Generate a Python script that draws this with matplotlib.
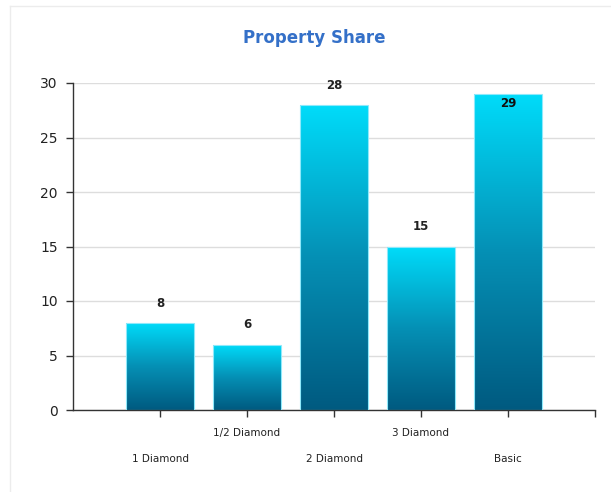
import matplotlib.pyplot as plt
import numpy as np
from matplotlib.colors import LinearSegmentedColormap
from matplotlib.lines import Line2D

categories = ['1 Diamond', '1/2 Diamond', '2 Diamond', '3 Diamond', 'Basic']
values = [8, 6, 28, 15, 29]
yticks = [0, 5, 10, 15, 20, 25, 30]

fig = plt.figure(figsize=(6.11, 4.92), dpi=100)
ax = fig.add_axes([73 / 611, 1 - 410 / 492, (595 - 73) / 611, (410 - 83) / 492])

# faint frame around the chart
fig.add_artist(Line2D([10 / 611, 10 / 611], [0, 1 - 6 / 492], color='#ececec', lw=1))
fig.add_artist(Line2D([10 / 611, 1], [1 - 6 / 492, 1 - 6 / 492], color='#ececec', lw=1))

x = np.arange(1, len(categories) + 1)
cmap = LinearSegmentedColormap.from_list('teal', ['#005a80', '#0590b5', '#00dcfa'])
grad = np.linspace(0, 1, 256).reshape(-1, 1)

bars = ax.bar(x, values, width=0.78, color='none', edgecolor='#8ee9fb', linewidth=0.8, zorder=3)
for b in bars:
    x0, w, h = b.get_x(), b.get_width(), b.get_height()
    im = ax.imshow(grad, cmap=cmap, origin='lower', aspect='auto',
                   extent=[x0, x0 + w, 0, h], zorder=2)
    im.set_clip_path(b)

for xi, v in zip(x, values):
    if v + 1.8 <= 30:
        ax.text(xi, v + 1.8, str(v), ha='center', va='center', fontsize=8.5,
                fontweight='bold', color='#222222', zorder=4)
    else:
        ax.text(xi, v - 0.9, str(v), ha='center', va='center', fontsize=8.5,
                fontweight='bold', color='#111111', zorder=4)

ax.set_xlim(0, 6)
ax.set_ylim(0, 30)
ax.set_yticks(yticks)
ax.tick_params(axis='y', labelsize=10, length=5, width=1, color='#333333',
               labelcolor='#222222', pad=6)
ax.yaxis.grid(True, color='#dddddd', lw=1)
ax.set_axisbelow(True)

# staggered category labels: upper row on major ticks, lower row on minor ticks
upper = [i for i in range(len(categories)) if i % 2 == 1]
lower = [i for i in range(len(categories)) if i % 2 == 0]
ax.set_xticks([x[i] for i in upper] + [6], [categories[i] for i in upper] + [''])
ax.set_xticks([x[i] for i in lower], [categories[i] for i in lower], minor=True)
ax.tick_params(axis='x', which='major', labelsize=7.5, length=5, width=1,
               color='#333333', labelcolor='#222222', pad=8)
ax.tick_params(axis='x', which='minor', labelsize=7.5, length=5, width=1,
               color='#333333', labelcolor='#222222', pad=27)

for s in ['top', 'right']:
    ax.spines[s].set_visible(False)
for s in ['left', 'bottom']:
    ax.spines[s].set_color('#333333')
    ax.spines[s].set_linewidth(1)

fig.text(314 / 611, 1 - 38 / 492, 'Property Share', ha='center', va='center',
         fontsize=12, fontweight='bold', color='#3470c8')

fig.savefig('out.png', dpi=100)
